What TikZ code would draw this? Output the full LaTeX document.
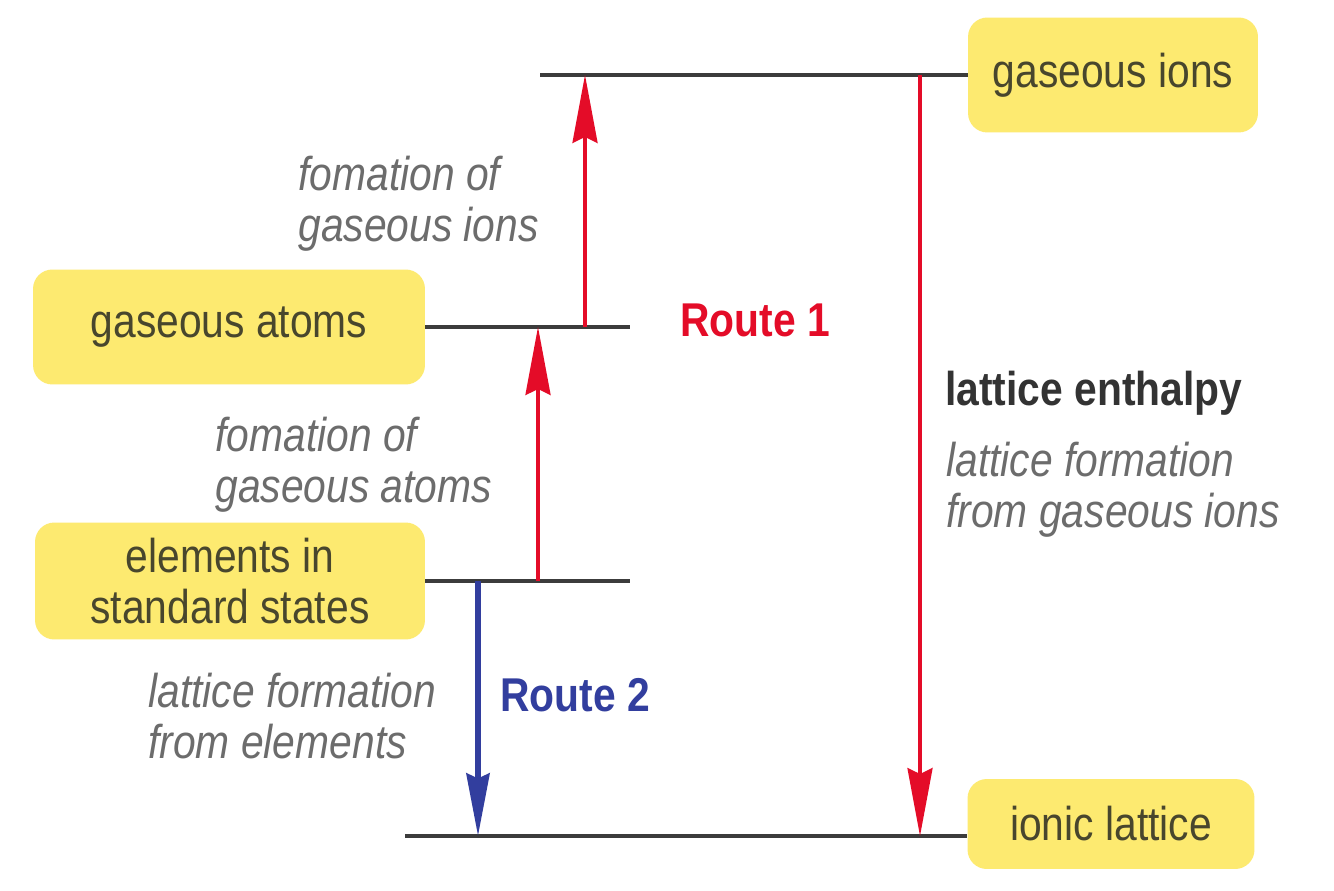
\documentclass[tikz,border=0pt]{standalone}
\usepackage{fontspec}
\setmainfont{Liberation Sans}[FakeStretch=0.86]
\usetikzlibrary{arrows.meta}
\definecolor{boxyellow}{RGB}{253,234,112}
\definecolor{levelgray}{RGB}{60,60,60}
\definecolor{statetext}{RGB}{72,70,45}
\definecolor{notegray}{RGB}{108,108,108}
\definecolor{routered}{RGB}{228,12,40}
\definecolor{routeblue}{RGB}{50,62,158}
\newcommand{\labsize}{\fontsize{27}{29}\selectfont}
\tikzset{
  state/.style={fill=boxyellow,rounded corners=11pt,text=statetext,align=center,inner sep=0pt,font=\labsize},
  level/.style={draw=levelgray,line width=2.3pt},
  note/.style={text=notegray,align=left,font=\labsize\itshape,inner sep=0pt,anchor=west},
  route/.style={font=\labsize\bfseries,inner sep=0pt,anchor=west},
  redarrow/.style={draw=routered,line width=1.9pt,-{Stealth[length=1.36cm,width=0.5cm,inset=0.12cm]}},
  bluearrow/.style={draw=routeblue,line width=3.2pt,-{Stealth[length=1.25cm,width=0.46cm,inset=0.1cm]}}
}

\begin{document}
\begin{tikzpicture}[x=0.02cm,y=-0.02cm]
  \useasboundingbox[fill=white] (0,0) rectangle (1334,891);
  % energy levels and their boxes
  \node[state,minimum width=5.8cm,minimum height=2.3cm] (ions) at (1113,75) {gaseous ions};
  \node[state,minimum width=7.84cm,minimum height=2.3cm] (atoms) at (229,327) {gaseous atoms};
  \node[state,minimum width=7.8cm,minimum height=2.34cm] (elements) at (230,581) {elements in\\standard states};
  \node[state,minimum width=5.74cm,minimum height=1.8cm] (lattice) at (1111,824) {ionic lattice};
  \coordinate (ionL) at (540,75);
  \coordinate (atomR) at (630,327);
  \coordinate (elemR) at (630,581);
  \coordinate (latL) at (405,836);
  \draw[level] (ionL) -- (ions.west);
  \draw[level] (atoms.east) -- (atomR);
  \draw[level] (elements.east) -- (elemR);
  \draw[level] (latL) -- (latL -| lattice.west);
  % arrows
  \coordinate (r1) at (585,327);
  \coordinate (r2) at (538,581);
  \coordinate (b2) at (478,581);
  \coordinate (le) at (920,75);
  \draw[redarrow] (r1) -- (r1 |- ionL);
  \draw[redarrow] (r2) -- (r2 |- atomR);
  \draw[bluearrow] (b2) -- (b2 |- latL);
  \draw[redarrow] (le) -- (le |- latL);
  % labels
  \node[note] (n1) at (298,204) {fomation of\\gaseous ions};
  \node[note] (n2) at (215,465) {fomation of\\gaseous atoms};
  \node[note] (n3) at (148,716) {lattice formation\\from elements};
  \node[note] (n4) at (946,490) {lattice formation\\from gaseous ions};
  \node[route,text=routered] (route1) at (680,320) {Route 1};
  \node[route,text=routeblue] (route2) at (500,695) {Route 2};
  \node[route,text=black!80] (enthalpy) at (945,393) {lattice enthalpy};
\end{tikzpicture}
\end{document}
